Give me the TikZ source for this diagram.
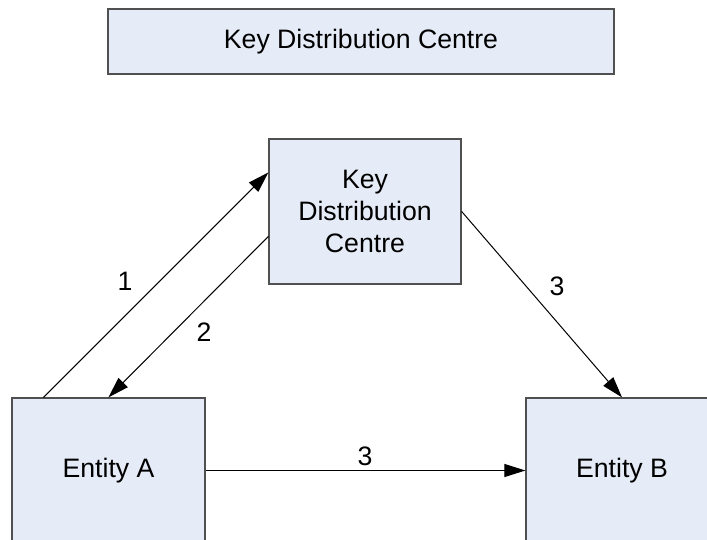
\documentclass[tikz,border=0pt]{standalone}
\usepackage{fontspec}
\setmainfont{Liberation Sans}
\usetikzlibrary{arrows.meta,calc}
\definecolor{boxfill}{RGB}{230,236,247}
\definecolor{boxline}{RGB}{80,80,80}
\tikzset{
  box/.style={draw=boxline, fill=boxfill, line width=1.2pt, inner sep=0pt,
    align=center, font=\fontsize{26.67}{32}\selectfont},
  conn/.style={draw=black, line width=1pt, -{Triangle[length=21pt,width=13pt]}},
  lbl/.style={inner sep=0pt, font=\fontsize{26.67}{32}\selectfont}
}
\begin{document}
\begin{tikzpicture}[x=1pt,y=-1pt]
\useasboundingbox (0,0) rectangle (707,540);
\clip (0,0) rectangle (707,540);
\fill[white] (0,0) rectangle (707,540);
\node[box, minimum width=506pt, minimum height=65pt] (top) at (361,41.5) {Key Distribution Centre};
\node[box, minimum width=192pt, minimum height=145pt] (kdc) at (365,211.5) {Key\\Distribution\\Centre};
\node[box, minimum width=193pt, minimum height=145pt] (A) at (108.5,470.5) {Entity A};
\node[box, minimum width=192pt, minimum height=145pt] (B) at (622,470.5) {Entity B};
\draw[conn] ($(A.north west)+(32,0)$) -- ($(kdc.north west)+(0,34)$);
\draw[conn] ($(kdc.north west)+(0,98)$) -- ($(A.north west)+(97,0)$);
\draw[conn] ($(kdc.north east)+(0,73)$) -- (B.north);
\draw[conn] (A.east) -- (B.west);
\node[lbl] (l1) at (125,281) {1};
\node[lbl] (l2) at (204,332) {2};
\node[lbl] (l3a) at (557,286) {3};
\node[lbl] (l3b) at (365,456) {3};
\end{tikzpicture}
\end{document}
